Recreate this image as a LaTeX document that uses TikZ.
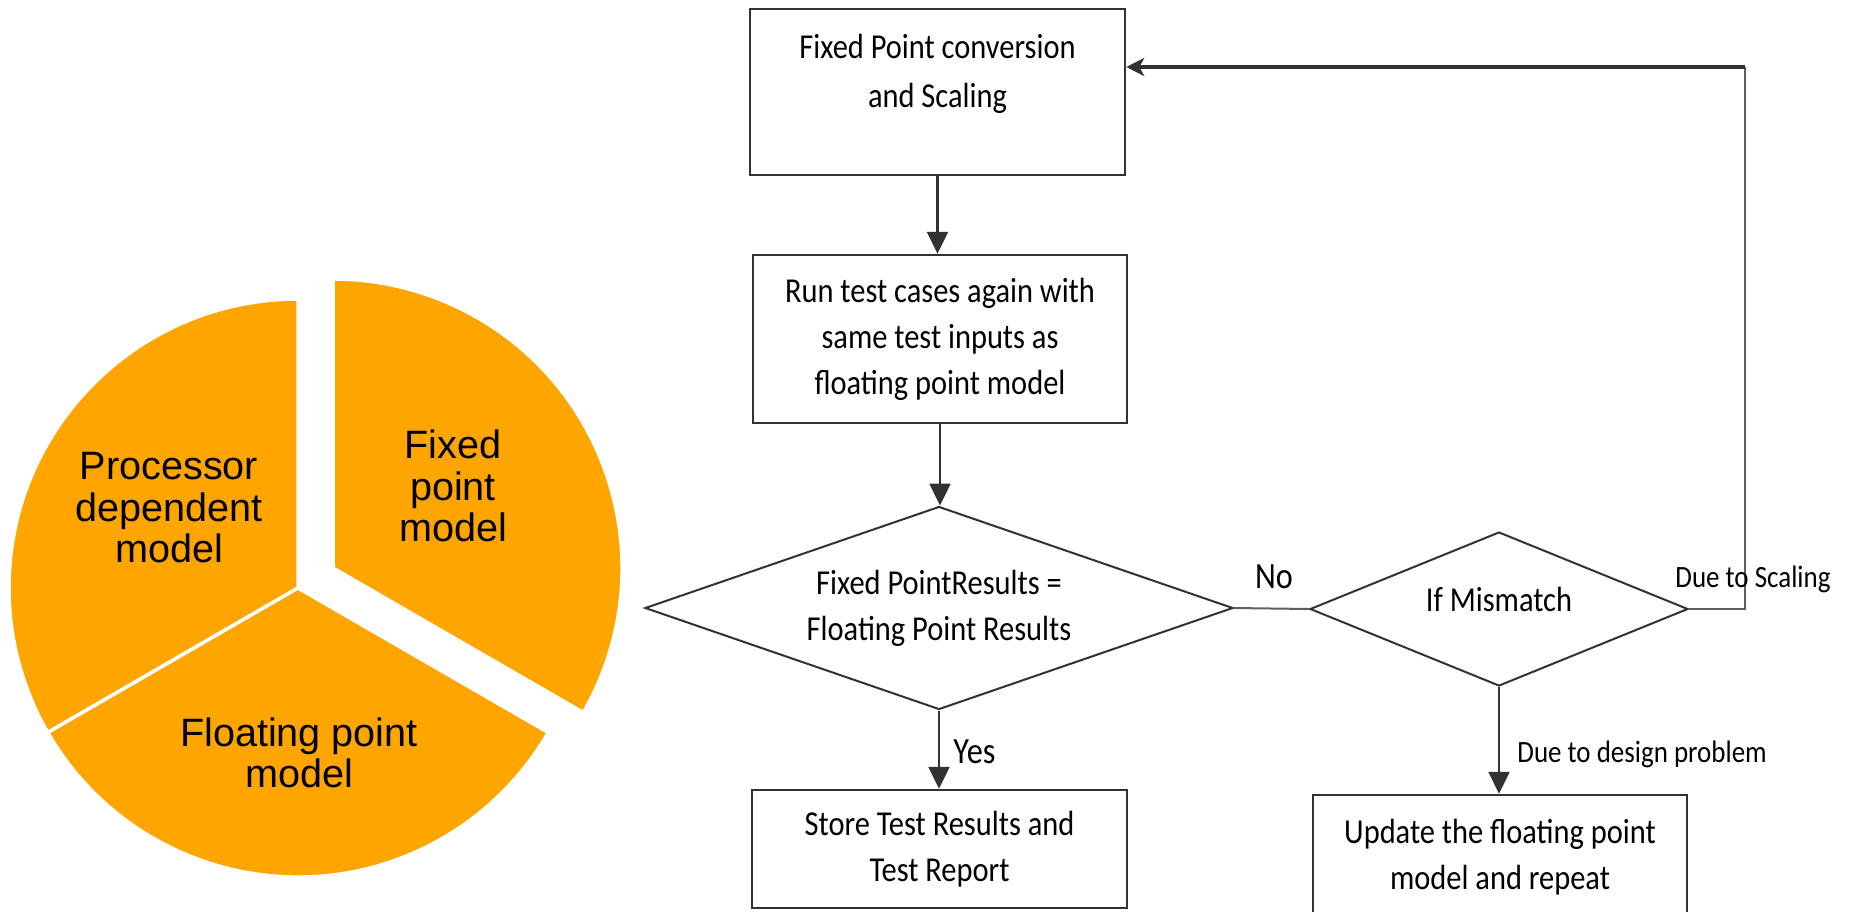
\documentclass[tikz,border=0pt]{standalone}
\usepackage{fontspec}
\setmainfont{Carlito}
\newfontfamily\calf[FakeStretch=0.87]{Carlito}
\newfontfamily\arialf{Liberation Sans}
\usetikzlibrary{arrows.meta,shapes.geometric}
\definecolor{pieorange}{RGB}{255,165,0}
\definecolor{edgegray}{RGB}{50,50,50}
\definecolor{linegray}{RGB}{95,95,95}
\begin{document}
\begin{tikzpicture}[x=0.5pt,y=-0.5pt,
  slice/.style={fill=pieorange, draw=white, line width=1.75pt, line join=round},
  pietext/.style={font=\arialf\fontsize{19.8}{20.75}\selectfont, align=center, inner sep=0pt, text=black},
  box/.style={draw=edgegray, line width=1.25pt, rectangle, inner sep=0pt, align=center, font=\calf\fontsize{17.5}{23}\selectfont},
  decision/.style={draw=edgegray, line width=1pt, diamond, inner sep=0pt, align=center, font=\calf\fontsize{17.5}{23}\selectfont},
  flow/.style={draw=edgegray, line width=1.2pt, -{Triangle[length=11pt,width=10.5pt]}},
  flowleft/.style={draw=edgegray, line width=2pt, -{Stealth[length=9pt,width=9pt,inset=2.5pt]}},
  plain/.style={draw=linegray, line width=1pt},
  lbl/.style={inner sep=0pt, align=center, font=\calf\fontsize{17.5}{24.5}\selectfont},
  small/.style={inner sep=0pt, font=\calf\fontsize{15.5}{18}\selectfont},
  yesno/.style={inner sep=0pt, font=\calf\fontsize{18.5}{22}\selectfont},
]
\useasboundingbox (0,0) rectangle (1851,911);
% ---------- pie ----------
\coordinate (pc) at (298,588);
\coordinate (fc) at (333,568);
\path[slice] (pc) -- ++(-90:289) arc[start angle=-90, end angle=-210, radius=289] -- cycle;
\path[slice] (pc) -- ++(150:289) arc[start angle=150, end angle=30, radius=289] -- cycle;
\path[slice] (fc) -- ++(30:289) arc[start angle=30, end angle=-90, radius=289] -- cycle;
\node[pietext] (tproc) at (169,508) {Processor\\dependent\\model};
\node[pietext] (tfix) at (453,486) {Fixed\\point\\model};
\node[pietext] (tflo) at (299,753) {Floating point\\model};
% ---------- flowchart ----------
\node[box, minimum width=187.5pt, minimum height=83pt,
  label={[lbl, yshift=9pt]center:{Fixed Point conversion\\and Scaling}}] (b1) at (937.5,92) {};
\node[box, minimum width=187pt, minimum height=84pt] (b2) at (940,339)
  {Run test cases again with\\same test inputs as\\floating point model};
\node[decision, aspect=2.9, minimum width=294pt, minimum height=101.5pt] (d1) at (939,608)
  {Fixed PointResults =\\Floating Point Results};
\node[decision, aspect=2.45, minimum width=189pt, minimum height=77pt,
  label={[lbl, yshift=5pt]center:If Mismatch}] (d2) at (1499,609) {};
\node[box, minimum width=187.5pt, minimum height=59pt] (b3) at (939.5,849)
  {Store Test Results and\\Test Report};
\node[box, minimum width=187pt, minimum height=62pt] (b4) at (1500,857)
  {Update the floating point\\model and repeat};
\coordinate (fbk) at (1745,67);
\draw[flow] (b1.south) -- (b1.south |- b2.north);
\draw[flow] (b2.south) -- (b2.south |- d1.north);
\draw[plain] (d1.east) -- (d2.west);
\draw[flow] (d1.south) -- (d1.south |- b3.north);
\draw[flow] (d2.south) -- (d2.south |- b4.north);
\draw[plain] (d2.east) -| (fbk);
\draw[flowleft] (fbk) -- (fbk -| b1.east);
\node[yesno, anchor=base] (no) at (1274,588) {No};
\node[yesno, anchor=base west] (yes) at (953,763) {Yes};
\node[small, anchor=base west] (dsc) at (1675,587) {Due to Scaling};
\node[small, anchor=base west] (ddp) at (1517,762) {Due to design problem};
\end{tikzpicture}
\end{document}
